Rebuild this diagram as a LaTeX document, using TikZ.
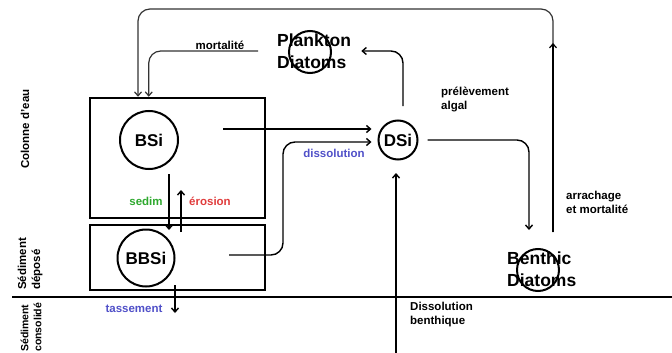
\documentclass[tikz,border=0pt]{standalone}
\usepackage{fontspec}
\setmainfont{Liberation Sans}
\usetikzlibrary{arrows.meta,positioning,calc}
\definecolor{SedGreen}{HTML}{2EA82E}
\definecolor{ErosRed}{HTML}{E03C3C}
\definecolor{DissBlue}{HTML}{5050C8}

\begin{document}
\begin{tikzpicture}[x=1pt, y=-1pt,
    pool/.style={circle, draw, line width=2pt, inner sep=0pt, font=\fontsize{17}{17}\selectfont\bfseries},
    layer/.style={draw, line width=2.5pt, minimum width=175pt, inner sep=0pt},
    flux/.style={line width=1.4pt, rounded corners=12pt, -{Straight Barb[length=4pt,width=7pt]}},
    lbl/.style={font=\fontsize{11.5}{14}\selectfont\bfseries, inner sep=0pt, align=left},
    side/.style={lbl, rotate=90},
    bigname/.style={font=\fontsize{17.5}{22}\selectfont\bfseries, align=left, inner sep=0pt}]
  \useasboundingbox (0,0) rectangle (672,353);

  % compartments
  \node[layer, minimum height=120pt] (water) at (177.5,158) {};
  \node[layer, minimum height=65pt] (sed) at (177.5,257.5) {};

  % pools
  \node[pool, minimum size=58pt] (bsi) at (149,140) {BSi};
  \node[pool, minimum size=57pt] (bbsi) at (146,258) {BBSi};
  \node[pool, minimum size=39pt] (dsi) at (398,140) {DSi};
  \node[pool, minimum size=42pt] (plk) at (310,52) {};
  \node[bigname, anchor=west] (plktxt) at (277,51) {Plankton\\Diatoms};
  \node[pool, minimum size=42pt] (bnt) at (538,270) {};
  \node[bigname, anchor=west] (bnttxt) at (507,269) {Benthic\\Diatoms};

  % sediment surface
  \coordinate (shoreW) at (12,297);
  \coordinate (shoreE) at (672,297);
  \draw[line width=2pt] (shoreW) -- (shoreE);

  % free ends of the fluxes
  \coordinate (upstart) at (553,232);
  \coordinate (uptip) at (553,43);
  \coordinate (looptop) at (138,9);
  \coordinate (mortstart) at (258,51);
  \coordinate (uptake) at (403,106);
  \coordinate (bsiout) at (223,129);
  \coordinate (bbsiout) at (229,255);
  \coordinate (dissturn) at (283,142);
  \coordinate (bntin) at (529,230);
  \coordinate (sedimA) at (169,174);
  \coordinate (sedimB) at (169,230);
  \coordinate (erosA) at (181,232);
  \coordinate (erosB) at (181,190);
  \coordinate (tasA) at (175,285);
  \coordinate (tasB) at (175,313);
  \coordinate (bdissA) at (396,353);
  \coordinate (bdissB) at (396,173);

  % fluxes
  \draw[flux, line width=1.2pt, black!80] (upstart) |- (looptop) -- (looptop |- water.north);
  \draw[flux, line width=1.2pt] (upstart) -- (uptip);
  \draw[flux, line width=1.2pt, black!80] (mortstart) -| ([xshift=60pt]water.north west);
  \draw[flux] (uptake) |- ([xshift=10pt]plktxt.east);
  \draw[flux, shorten >=6pt] (bsiout) -- (bsiout -| dsi.west);
  \draw[flux, shorten >=6pt] (bbsiout) -| (dissturn) -- (dissturn -| dsi.west);
  \draw[flux] ([xshift=9pt]dsi.east) -| (bntin);
  \draw[flux] (sedimA) -- (sedimB);
  \draw[flux] (erosA) -- (erosB);
  \draw[flux] (tasA) -- (tasB);
  \draw[flux] (bdissA) -- (bdissB);

  % labels
  \node[lbl] (mortlbl) at (220,45) {mortalité};
  \node[lbl, anchor=west] (uplbl) at (441,100) {prélèvement\\algal};
  \node[lbl, text=DissBlue] (disslbl) at (334,153) {dissolution};
  \node[lbl, text=SedGreen] (sedlbl) at (146,201) {sedim};
  \node[lbl, text=ErosRed] (eroslbl) at (210,201) {érosion};
  \node[lbl, text=DissBlue] (taslbl) at (134,309) {tassement};
  \node[lbl, anchor=west] (arrlbl) at (566,202) {arrachage\\et mortalité};
  \node[lbl, anchor=west] (bdlbl) at (410,315) {Dissolution\\benthique};
  \node[side] (wclbl) at (25,129) {Colonne d'eau};
  \node[side, anchor=west] (sdlbl) at (30,290) {Sédiment\\déposé};
  \node[side, anchor=west, font=\fontsize{10.5}{13}\selectfont\bfseries] (sclbl) at (31,352) {Sédiment\\consolidé};
\end{tikzpicture}
\end{document}
